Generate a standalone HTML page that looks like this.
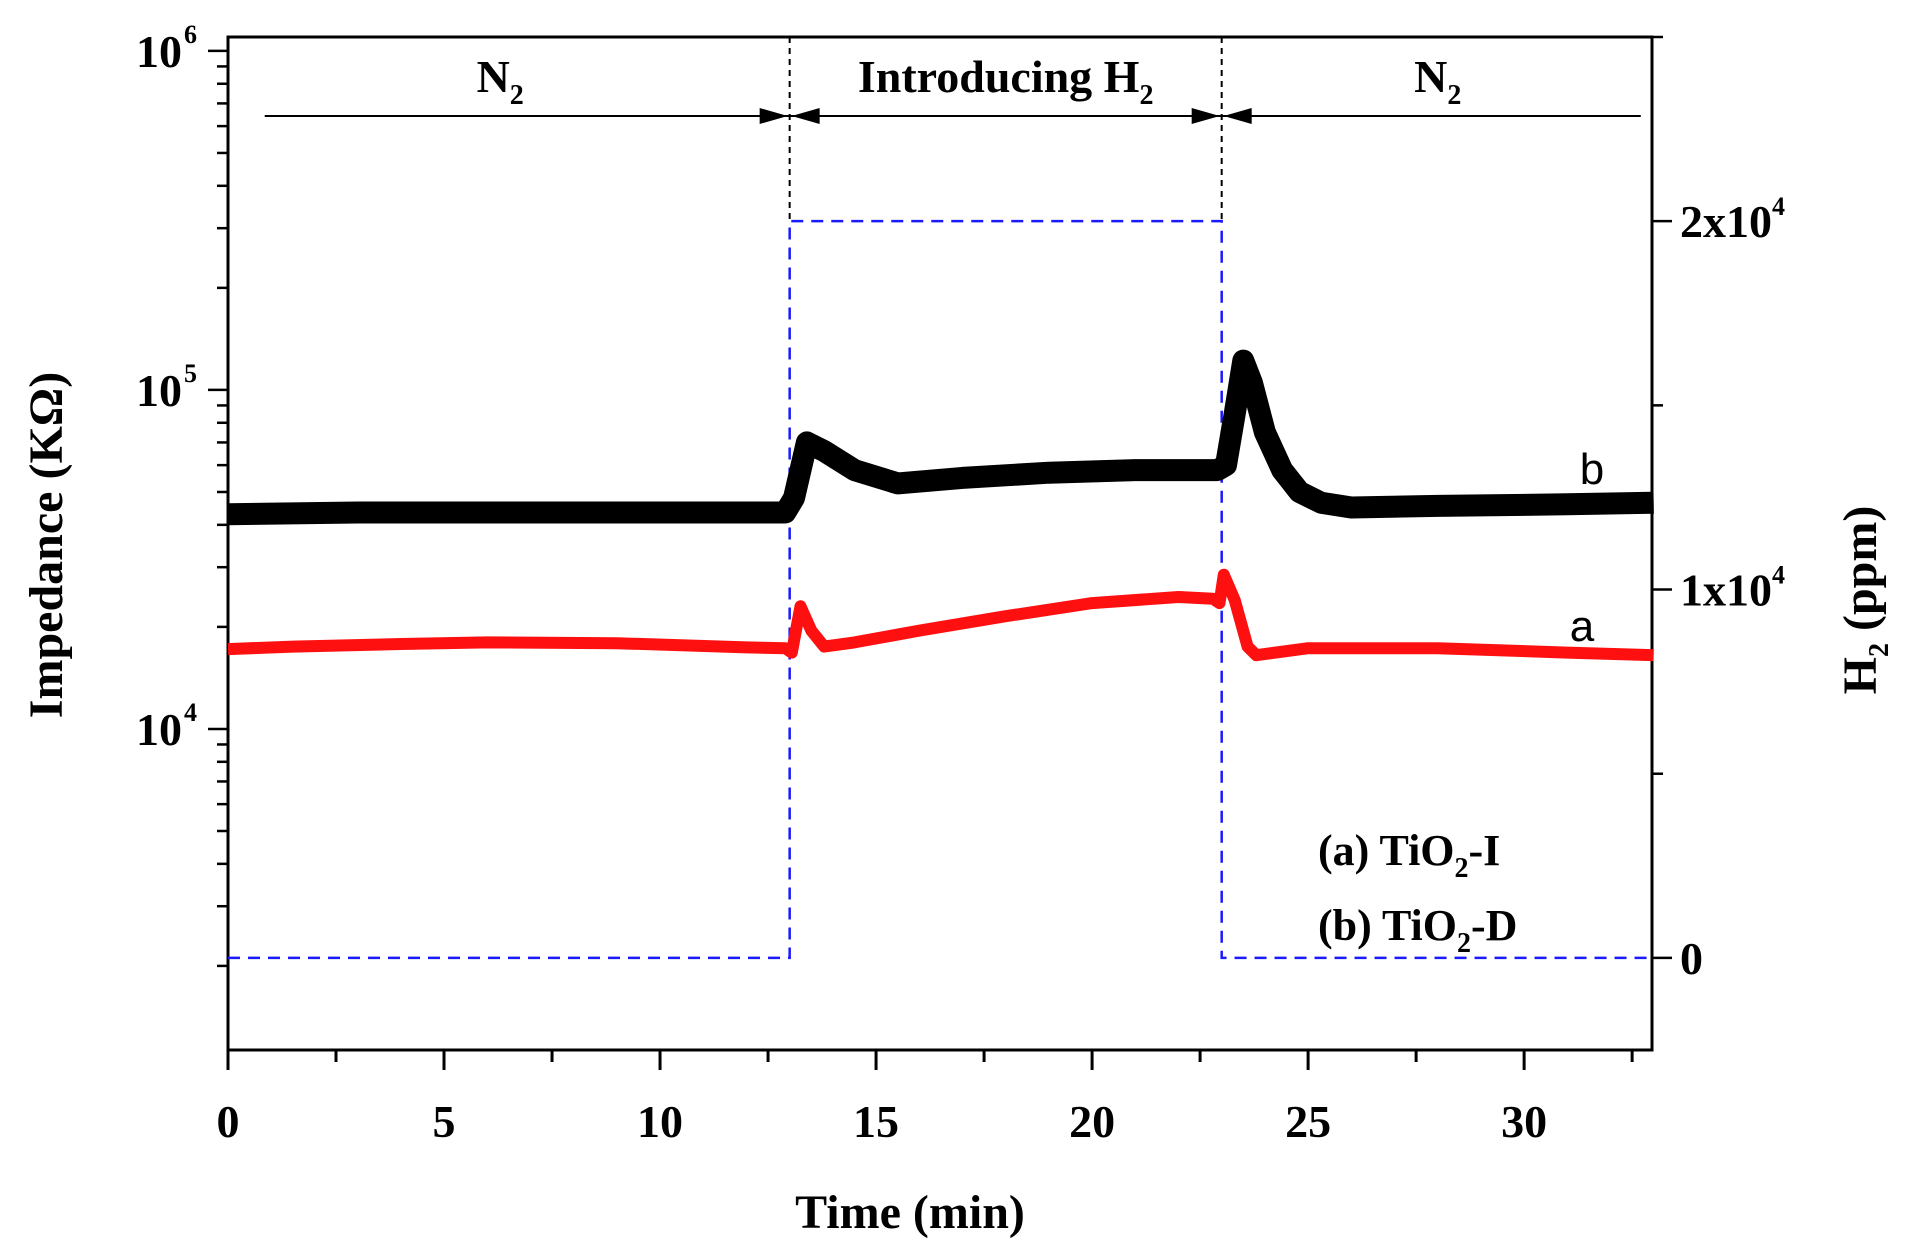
<!DOCTYPE html>
<html><head><meta charset="utf-8"><style>
html,body{margin:0;padding:0;background:#fff;}
svg{display:block;font-family:"Liberation Serif",serif;}
</style></head><body>
<svg id="chart" width="1914" height="1244" viewBox="0 0 1914 1244" xmlns="http://www.w3.org/2000/svg">
<g id="plot"></g>
</svg>
<script>
const xTicks=[0,5,10,15,20,25,30];
const xTickLabels=["0","5","10","15","20","25","30"];
const rightTicks=[0,10000,20000];
const rightTickLabels=["0","1x10","2x10"];
const timeA=[0,1.5,4,6,9,12,12.9,13.05,13.25,13.5,13.8,14.5,16,18,20,22,22.8,22.95,23.05,23.3,23.6,23.8,25,28,31,33];
const valA=[17200,17500,17800,18000,17900,17400,17300,16800,23000,19500,17500,18000,19500,21500,23500,24500,24200,23500,28500,24000,17500,16500,17300,17300,16800,16500];
const timeB=[0,3,6,9,12.9,13.1,13.4,13.8,14.5,15.5,17,19,21,22.9,23.1,23.3,23.5,23.7,24,24.4,24.8,25.3,26,28,31,33];
const valB=[43000,43500,43500,43500,43500,48000,70000,66000,58000,53000,55000,57000,58000,58000,60000,85000,122000,105000,75000,58000,50000,46500,45000,45500,46000,46500];
const timeH=[0,13,13,23,23,33];
const valH=[0,0,20000,20000,0,0];

const L=228,R=1652,T=37,B=1050;
const xMin=0,xMax=32.96,logMin=3.053,logMax=6.041,hMin=-2500,hMax=25000;
const xs=v=>L+(v-xMin)/(xMax-xMin)*(R-L);
const ys=v=>B-(Math.log10(v)-logMin)/(logMax-logMin)*(B-T);
const yr=v=>B-(v-hMin)/(hMax-hMin)*(B-T);
const NS="http://www.w3.org/2000/svg";
const g=document.getElementById('plot');
function mk(tag,at,parent){const e=document.createElementNS(NS,tag);for(const k in at)e.setAttribute(k,at[k]);(parent||g).appendChild(e);return e;}

let f=mk('rect',{x:L,y:T,width:R-L,height:B-T,fill:'none',stroke:'#000','stroke-width':3});



for(let v=0;v<=xMax;v+=2.5){
  const major=(v%5===0);
  let t=mk('line',{x1:xs(v),x2:xs(v),y1:B,y2:B+(major?20:12),stroke:'#000','stroke-width':3});
  
  
}
xTicks.forEach((v,i)=>{
  let t=mk('text',{x:xs(v),y:1137,'text-anchor':'middle','font-size':46,'font-weight':'bold'});
  t.textContent=xTickLabels[i];
  
  
});
for(let d=3;d<=6;d++){
  for(let m=1;m<=9;m++){
    const v=m*Math.pow(10,d);const lv=Math.log10(v);
    if(lv<logMin||lv>logMax)continue;
    let t=mk('line',{x1:L,x2:L-(m===1?20:11),y1:ys(v),y2:ys(v),stroke:'#000','stroke-width':2.5});
    
    
  }
}
[4,5,6].forEach(d=>{
  let t=mk('text',{x:182,y:ys(Math.pow(10,d))+16,'text-anchor':'end','font-size':46,'font-weight':'bold'});
  t.textContent='10';
  
  
  let s=mk('text',{x:184,y:ys(Math.pow(10,d))-8,'font-size':26,'font-weight':'bold'});
  s.textContent=String(d);
  
  
});
for(let v=0;v<=25000;v+=5000){
  const major=(v%10000===0);
  let t=mk('line',{x1:R,x2:R+(major?20:11),y1:yr(v),y2:yr(v),stroke:'#000','stroke-width':2.5});
  
  
}
rightTicks.forEach((v,i)=>{
  let t=mk('text',{x:1680,y:yr(v)+16,'font-size':46,'font-weight':'bold'});
  t.textContent=rightTickLabels[i];
  if(v!==0){const s=mk('tspan',{dy:-22,'font-size':26},t);s.textContent='4';}
  
  
});

let hp=timeH.map((t,i)=>(i?'L':'M')+xs(t)+','+yr(valH[i])).join('');
let h=mk('path',{d:hp,fill:'none',stroke:'#1a1aff','stroke-width':2.5,'stroke-dasharray':'12,8'});


[13,23].forEach(v=>{
  let l=mk('line',{x1:xs(v),x2:xs(v),y1:T,y2:yr(20000),stroke:'#000','stroke-width':2,'stroke-dasharray':'6,5'});
  
  
});
function series(ts,vs,col,w,name){
  const d=ts.map((t,i)=>(i?'L':'M')+xs(t).toFixed(1)+','+ys(vs[i]).toFixed(1)).join('');
  let p=mk('path',{d:d,fill:'none',stroke:col,'stroke-width':w,'stroke-linejoin':'round'});
  
  
}
series(timeB,valB,'#000',22,'series-b-tio2-d');
series(timeA,valA,'#ff1010',12,'series-a-tio2-i');

const ay=116;
function arrow(x1,x2,name){
  let l=mk('line',{x1:x1,x2:x2,y1:ay,y2:ay,stroke:'#000','stroke-width':2});
  
  
}
arrow(xs(0.85),xs(13),'n2-arrow-left');
arrow(xs(13),xs(23),'h2-arrow');
arrow(xs(23),xs(32.7),'n2-arrow-right');
function head(x,dir){
  let p=mk('path',{d:`M${x},${ay} L${x-dir*28},${ay-8} L${x-dir*28},${ay+8}Z`,fill:'#000'});
  
  
}
head(xs(13)-2,1);head(xs(13)+2,-1);head(xs(23)-2,1);head(xs(23)+2,-1);

function lbl(x,y,html,size,anchor,name,fam,weight){
  let t=mk('text',{x:x,y:y,'font-size':size,'text-anchor':anchor||'start','font-weight':weight||'bold'});
  if(fam)t.setAttribute('font-family',fam);
  t.innerHTML=html;
  
  
  return t;
}
lbl(xs(6.3),92,'N<tspan font-size="28" dy="12">2</tspan>',46,'middle','n2-label-left');
lbl(xs(18),92,'Introducing H<tspan font-size="28" dy="12">2</tspan>',46,'middle','h2-label');
lbl(xs(28),92,'N<tspan font-size="28" dy="12">2</tspan>',46,'middle','n2-label-right');
lbl(1318,865,'(a) TiO<tspan font-size="28" dy="12">2</tspan><tspan dy="-12">-I</tspan>',44,'start','legend-a');
lbl(1318,940,'(b) TiO<tspan font-size="28" dy="12">2</tspan><tspan dy="-12">-D</tspan>',44,'start','legend-b');
lbl(1592,484,'b',44,'middle','label-b','Liberation Sans','normal');
lbl(1582,641,'a',44,'middle','label-a','Liberation Sans','normal');
lbl(910,1228,'Time (min)',48,'middle','x-axis-title');
let yl=lbl(0,0,'Impedance (KΩ)',48,'middle','y-axis-title-left');
yl.setAttribute('transform','translate(62,545) rotate(-90)');
let yr2=lbl(0,0,'H<tspan font-size="28" dy="12">2</tspan><tspan dy="-12"> (ppm)</tspan>',48,'middle','y-axis-title-right');
yr2.setAttribute('transform','translate(1876,600) rotate(-90)');
</script>
</body></html>
